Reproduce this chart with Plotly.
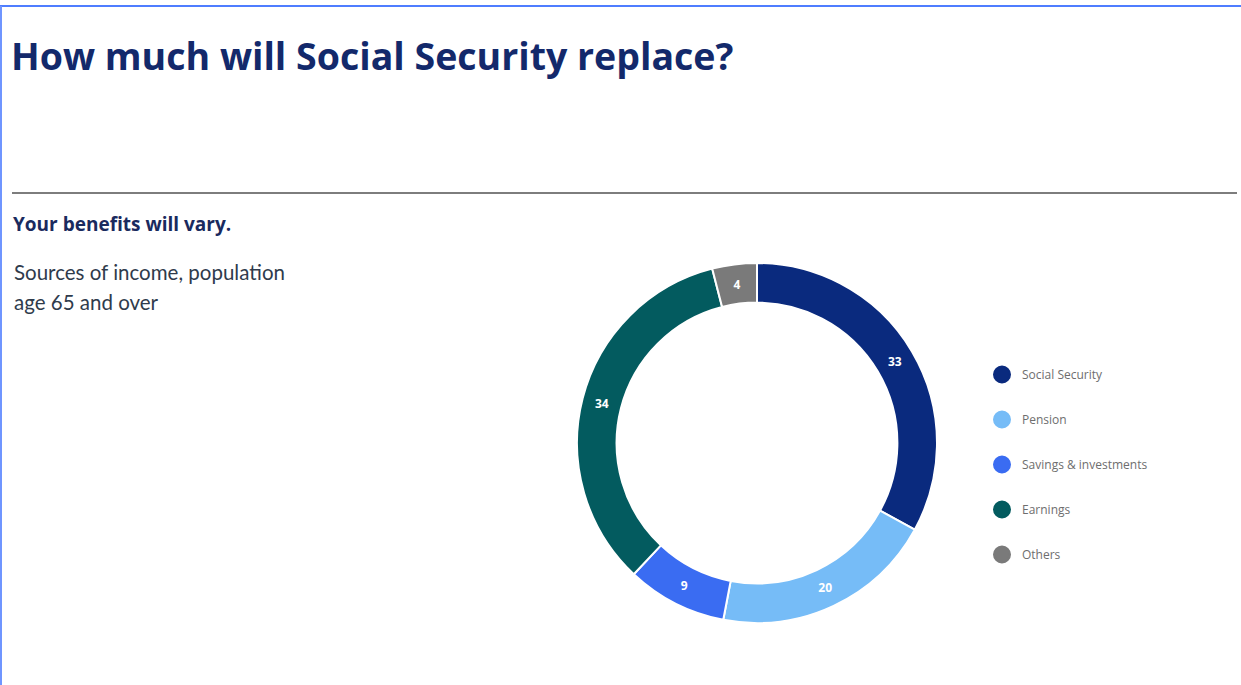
import plotly.graph_objects as go

W, H = 1241, 685

categories = ["Social Security", "Pension", "Savings & investments", "Earnings", "Others"]
values = [33, 20, 9, 34, 4]
colors = ["#0a2a7e", "#76bcf7", "#3a6cf2", "#035b5f", "#7a7a7a"]

title_text = "How much will Social Security replace?"
subtitle_text = "Your benefits will vary."
desc_lines = ["Sources of income, population", "age 65 and over"]

def px_x(x):
    return x / W

def px_y(y):
    return 1 - y / H

cx, cy, r = 757, 443, 180

fig = go.Figure()

fig.add_trace(go.Pie(
    labels=categories,
    values=values,
    sort=False,
    direction="clockwise",
    rotation=0,
    hole=0.78,
    marker=dict(colors=colors, line=dict(color="white", width=2)),
    textinfo="value",
    textposition="inside",
    insidetextorientation="horizontal",
    textfont=dict(color="white", size=12, family="Open Sans", weight="bold"),
    showlegend=False,
    hoverinfo="label+value",
    domain=dict(x=[px_x(cx - r), px_x(cx + r)], y=[px_y(cy + r), px_y(cy - r)]),
))

for i, (cat, col) in enumerate(zip(categories, colors)):
    fig.add_trace(go.Scatter(
        x=[None], y=[None], mode="markers", name=cat,
        legendgroup=f"g{i}",
        marker=dict(symbol="circle", size=16, color=col, line=dict(color=col, width=2)),
        showlegend=True,
    ))

fig.update_layout(
    width=W, height=H,
    margin=dict(l=0, r=0, t=0, b=0),
    paper_bgcolor="white",
    plot_bgcolor="white",
    xaxis=dict(visible=False),
    yaxis=dict(visible=False),
    legend=dict(
        x=px_x(982), y=px_y(360), xanchor="left", yanchor="top",
        tracegroupgap=26,
        font=dict(family="Open Sans", size=12, color="#6e6e6e"),
        bgcolor="rgba(0,0,0,0)",
    ),
    annotations=[
        dict(text=f"<b>{title_text}</b>", x=px_x(9), y=px_y(56), xref="paper", yref="paper",
             xanchor="left", yanchor="middle", showarrow=False,
             font=dict(family="Open Sans", size=37.5, color="#13296b")),
        dict(text=f"<b>{subtitle_text}</b>", x=px_x(11), y=px_y(224), xref="paper", yref="paper",
             xanchor="left", yanchor="middle", showarrow=False,
             font=dict(family="Open Sans", size=19, color="#1a2a5e")),
        dict(text=desc_lines[0], x=px_x(12), y=px_y(272), xref="paper", yref="paper",
             xanchor="left", yanchor="middle", showarrow=False,
             font=dict(family="Lato", size=20.5, color="#2f3b4c")),
        dict(text=desc_lines[1], x=px_x(12), y=px_y(302), xref="paper", yref="paper",
             xanchor="left", yanchor="middle", showarrow=False,
             font=dict(family="Lato", size=20.5, color="#2f3b4c")),
    ],
    shapes=[
        dict(type="line", xref="paper", yref="paper", x0=px_x(12), x1=px_x(1237),
             y0=px_y(193), y1=px_y(193), line=dict(color="#7d7d7d", width=2)),
        dict(type="line", xref="paper", yref="paper", x0=0, x1=1,
             y0=px_y(6), y1=px_y(6), line=dict(color="#4f7dff", width=2)),
        dict(type="line", xref="paper", yref="paper", x0=px_x(1), x1=px_x(1),
             y0=px_y(6), y1=0, line=dict(color="#6f95ff", width=2)),
    ],
)

fig.write_html("out.html")
